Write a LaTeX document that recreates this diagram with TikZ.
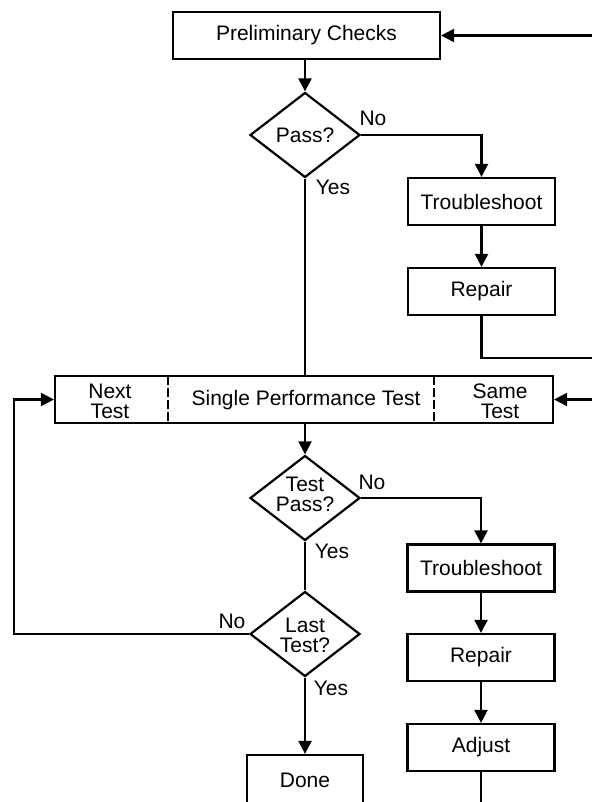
\documentclass[tikz,border=0pt]{standalone}
\usepackage{fontspec}
\setmainfont{Liberation Sans}
\usetikzlibrary{arrows.meta,shapes.geometric}
\tikzset{
  ln/.style={line width=2.2pt, line join=miter},
  arr/.style={ln, -{Triangle[length=13pt,width=13pt]}},
  box/.style={draw, line width=2.2pt, rectangle, inner sep=0pt,
    minimum width=147pt, minimum height=47pt, font=\fontsize{21}{20}\selectfont},
  dec/.style={draw, line width=2.2pt, diamond, inner sep=0pt,
    minimum width=110pt, minimum height=85pt},
  txt/.style={align=center, inner sep=0pt, font=\fontsize{21}{20}\selectfont},
  lbl/.style={inner sep=0pt, font=\fontsize{21}{20}\selectfont},
  divider/.style={line width=2.2pt, dash pattern=on 9pt off 3pt}
}
\begin{document}
\begin{tikzpicture}[x=1pt,y=-1pt]
\useasboundingbox (0,0) rectangle (592,802);
\clip (0,0) rectangle (592,802);
% nodes
\node[box, minimum width=267pt] (pre) at (306.5,35.5) {Preliminary Checks};
\node[dec] (pass) at (305,135) {};
\node[txt] (passt) at (305,135) {Pass?};
\node[box] (ts1) at (481.5,201.5) {Troubleshoot};
\node[box] (rep1) at (481.5,291.5) {Repair};
\node[box, minimum width=498pt] (spt) at (304,399.5) {};
\node[txt] (sptt) at (306,400) {Single Performance Test};
\node[txt] (next) at (110,401) {Next\\Test};
\node[txt] (same) at (500,401) {Same\\Test};
\node[dec] (tpass) at (305,498) {};
\node[txt] (tpasst) at (305,494) {Test\\Pass?};
\node[box] (ts2) at (481,568) {Troubleshoot};
\node[box] (rep2) at (481,657.5) {Repair};
\node[box] (adj) at (481,747.5) {Adjust};
\node[dec] (last) at (305,634) {};
\node[txt] (lastt) at (305,635) {Last\\Test?};
\node[box, minimum width=116pt, minimum height=51pt] (done) at (305,780.5) {};
\node[txt] (donet) at (305,780) {Done};
% labels
\node[lbl] (no1) at (373,118) {No};
\node[lbl] (yes1) at (333,187) {Yes};
\node[lbl] (no2) at (372,482) {No};
\node[lbl] (yes2) at (332,551) {Yes};
\node[lbl] (no3) at (232,621) {No};
\node[lbl] (yes3) at (331,688) {Yes};
% free ends
\coordinate (fb0) at (592,35.5);
\coordinate (fb1) at (592,358);
\coordinate (fb2) at (592,399.5);
\coordinate (lp) at (14,634);
\coordinate (bot) at (481,810);
% dividers
\draw[divider] (168,376) -- (168,423);
\draw[divider] (434,376) -- (434,423);
% connectors
\draw[arr] (fb0) -- (pre.east);
\draw[arr] (pre.south -| pass.north) -- (pass.north);
\draw[arr] (pass.east) -| (ts1.north);
\draw[arr] (ts1) -- (rep1);
\draw[ln] (rep1.south) |- (fb1);
\draw[ln] (pass.south) -- (pass.south |- spt.north);
\draw[arr] (fb2) -- (spt.east);
\draw[arr] (tpass.north |- spt.south) -- (tpass.north);
\draw[arr] (tpass.east) -| (ts2.north);
\draw[arr] (ts2) -- (rep2);
\draw[arr] (rep2) -- (adj);
\draw[ln] (adj.south) -- (bot);
\draw[ln] (tpass.south) -- (last.north);
\draw[arr] (last.south) -- (done.north);
\draw[arr] (last.west) -- (lp) |- (spt.west);
\end{tikzpicture}
\end{document}
